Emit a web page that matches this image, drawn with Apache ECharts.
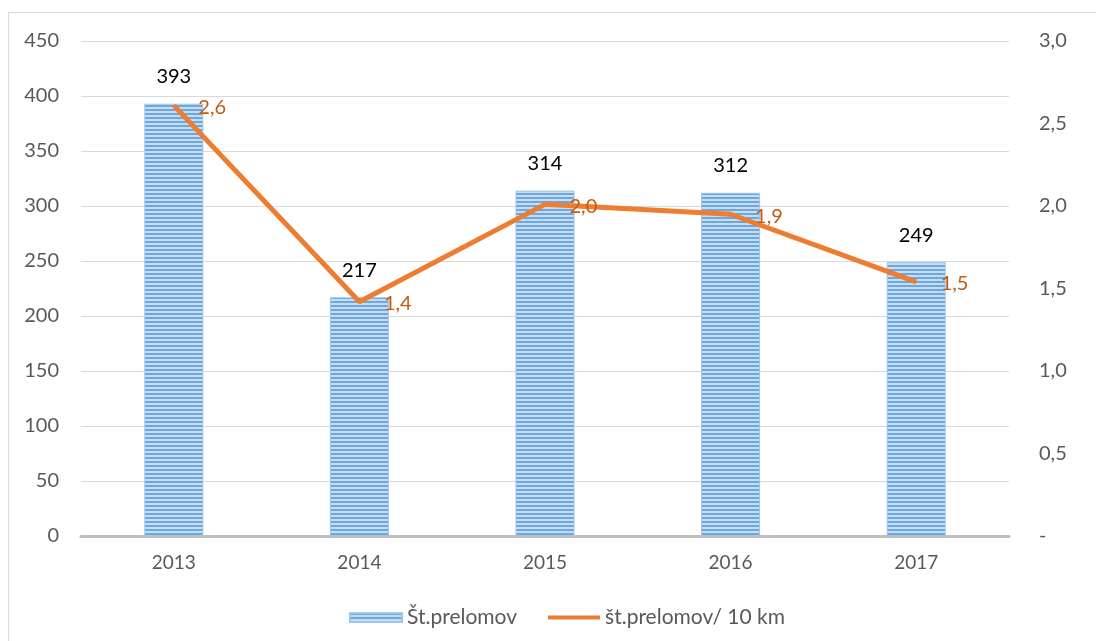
<!DOCTYPE html>
<html lang="sl">
<head>
    <meta charset="UTF-8">
    <title>Št.prelomov</title>
    <script src="https://cdn.jsdelivr.net/npm/echarts@6/dist/echarts.min.js"></script>
    <style>
        html, body { margin: 0; padding: 0; background: #fff; }
        #chart { position: absolute; left: 8px; top: 12px; width: 1090px; height: 640px;
                 border: 1px solid #d9d9d9; box-sizing: border-box; }
    </style>
</head>
<body>
<div id="chart"></div>
<script>
    // podatki
    var years = ['2013', '2014', '2015', '2016', '2017'];
    var prelomi = [393, 217, 314, 312, 249];
    var prelomiNa10km = [2.61, 1.42, 2.01, 1.95, 1.54];

    // crtast vzorec za stolpce
    function stripes() {
        var c = document.createElement('canvas');
        c.width = 8; c.height = 4;
        var ctx = c.getContext('2d');
        ctx.fillStyle = '#c6ddf3';
        ctx.fillRect(0, 0, 8, 4);
        ctx.fillStyle = '#6ea7de';
        ctx.fillRect(0, 0, 8, 2);
        return c;
    }

    var font = 'Lato, "Open Sans", sans-serif';
    var chart = echarts.init(document.getElementById('chart'));
    chart.setOption({
        animation: false,
        textStyle: { fontFamily: font },
        grid: { left: 72, right: 88, top: 28, bottom: 115 },
        legend: {
            left: 335,
            bottom: 18,
            itemGap: 31,
            itemWidth: 52,
            itemHeight: 9,
            textStyle: { fontSize: 21, color: '#595959', fontFamily: font },
            data: [
                { name: 'Št.prelomov', icon: 'rect' },
                { name: 'št.prelomov/ 10 km', icon: 'path://M0,0 L52,0 L52,4 L0,4 Z',
                  itemStyle: { color: '#ed7d31' } }
            ]
        },
        xAxis: {
            type: 'category',
            data: years,
            axisLine: { lineStyle: { color: '#bfbfbf', width: 3 } },
            axisTick: { show: false },
            axisLabel: { color: '#595959', fontSize: 19, margin: 17 }
        },
        yAxis: [{
            type: 'value',
            min: 0, max: 450, interval: 50,
            axisLine: { show: false },
            axisTick: { show: false },
            axisLabel: { color: '#595959', fontSize: 20, margin: 22 },
            splitLine: { lineStyle: { color: '#d9d9d9', width: 1 } }
        }, {
            type: 'value',
            min: 0, max: 3, interval: 0.5,
            axisLine: { show: false },
            axisTick: { show: false },
            splitLine: { show: false },
            axisLabel: {
                color: '#595959', fontSize: 20, margin: 30,
                formatter: function (v) { return v === 0 ? '-' : v.toFixed(1).replace('.', ','); }
            }
        }],
        series: [{
            name: 'Št.prelomov',
            type: 'bar',
            data: prelomi,
            barWidth: 59,
            itemStyle: {
                color: { image: stripes(), repeat: 'repeat' },
                borderColor: '#9fc5ea',
                borderWidth: 1
            },
            label: {
                show: true, position: 'top', distance: 17,
                color: '#000', fontSize: 20, fontFamily: font
            }
        }, {
            name: 'št.prelomov/ 10 km',
            type: 'line',
            yAxisIndex: 1,
            data: prelomiNa10km,
            symbol: 'circle',
            symbolSize: 1,
            showSymbol: true,
            lineStyle: { color: '#ed7d31', width: 5 },
            itemStyle: { color: '#ed7d31' },
            label: {
                show: true, position: 'right', distance: 24, offset: [0, 2],
                color: '#c55a11', fontSize: 20, fontFamily: font,
                formatter: function (p) { return p.value.toFixed(1).replace('.', ','); }
            }
        }]
    });
</script>
</body>
</html>
